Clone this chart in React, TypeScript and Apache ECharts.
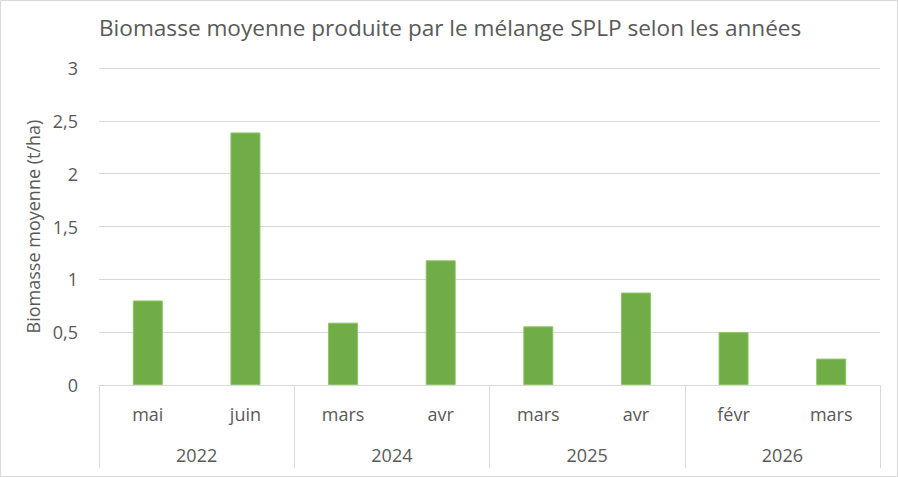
import React, { useEffect, useRef } from "react";
import * as echarts from "echarts";

const months = ["mai", "juin", "mars", "avr", "mars", "avr", "févr", "mars"];
const years = ["2022", "2024", "2025", "2026"];
const biomass = [0.8, 2.39, 0.59, 1.18, 0.555, 0.875, 0.5, 0.25];
const title = "Biomasse moyenne produite par le mélange SPLP selon les années";
const yName = "Biomasse moyenne (t/ha)";

const FONT = "'Open Sans', sans-serif";
const TXT = "#595959";
const GRID = "#d9d9d9";

export default function App() {
  const ref = useRef<HTMLDivElement>(null);
  useEffect(() => {
    if (!ref.current) return;
    const chart = echarts.init(ref.current, null, { renderer: "svg" });
    chart.setOption({
      animation: false,
      textStyle: { fontFamily: FONT, color: TXT },
      title: {
        text: title,
        left: 94,
        top: 11,
        textStyle: { fontFamily: FONT, fontSize: 22.6, fontWeight: "normal", color: TXT },
      },
      graphic: [
        {
          type: "rect",
          shape: { x: 0.5, y: 0.5, width: 897, height: 476 },
          style: { fill: "none", stroke: GRID, lineWidth: 1 },
          silent: true,
        },
      ],
      grid: { left: 99, right: 18, top: 68, bottom: 92 },
      xAxis: [
        {
          type: "category",
          data: months,
          position: "bottom",
          axisLine: { show: true, lineStyle: { color: GRID, width: 1 } },
          axisTick: { show: false },
          axisLabel: { margin: 20, fontSize: 18, color: TXT, fontFamily: FONT, interval: 0 },
        },
        {
          type: "category",
          data: years,
          position: "bottom",
          offset: 0,
          axisLine: { show: false },
          axisTick: { show: true, length: 83, lineStyle: { color: GRID, width: 1 } },
          axisLabel: { margin: 61, fontSize: 18, color: TXT, fontFamily: FONT, interval: 0 },
        },
      ],
      yAxis: {
        type: "value",
        min: 0,
        max: 3,
        interval: 0.5,
        name: yName,
        nameLocation: "middle",
        nameGap: 55,
        nameTextStyle: { fontSize: 18, color: TXT, fontFamily: FONT },
        axisLine: { show: false },
        axisTick: { show: false },
        splitLine: { lineStyle: { color: GRID, width: 1 } },
        axisLabel: {
          margin: 21,
          fontSize: 18,
          color: TXT,
          fontFamily: FONT,
          formatter: (v: number) => String(v).replace(".", ","),
        },
      },
      series: [
        {
          type: "bar",
          data: biomass,
          xAxisIndex: 0,
          barWidth: 30,
          itemStyle: { color: "#70AD47", borderColor: "#8cc46a", borderWidth: 1 },
        },
      ],
    });
    return () => chart.dispose();
  }, []);
  return (
    <div
      ref={ref}
      style={{ position: "absolute", left: 0, top: 0, width: 898, height: 477, background: "#fff" }}
    />
  );
}
